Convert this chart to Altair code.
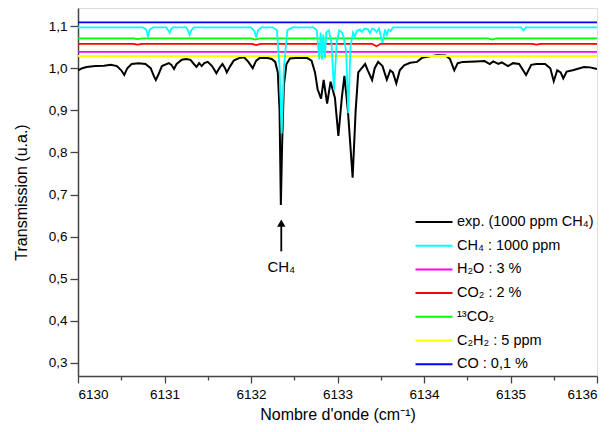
import altair as alt
import pandas as pd

FONT = "Liberation Sans"

# ---- series labels (legend order) and colours ----
series = ["exp. (1000 ppm CH₄)", "CH₄ : 1000 ppm", "H₂O : 3 %", "CO₂ : 2 %",
          "¹³CO₂", "C₂H₂ : 5 ppm", "CO : 0,1 %"]
colors = ["#000000", "#00FFFF", "#FF00FF", "#FF0000", "#00FF00", "#FFFF00", "#0000FF"]

exp_x = [6130.00, 6130.05, 6130.10, 6130.20, 6130.30, 6130.38, 6130.45, 6130.50, 6130.535, 6130.57,
         6130.62, 6130.70, 6130.78, 6130.84, 6130.88, 6130.90, 6130.93, 6130.97, 6131.05, 6131.08,
         6131.11, 6131.14, 6131.20, 6131.25, 6131.30, 6131.34, 6131.37, 6131.40, 6131.43, 6131.46,
         6131.50, 6131.55, 6131.60, 6131.64, 6131.67, 6131.70, 6131.72, 6131.76, 6131.80, 6131.86,
         6131.92, 6131.97, 6132.02, 6132.06, 6132.10, 6132.18, 6132.24, 6132.28, 6132.31, 6132.33,
         6132.345, 6132.36, 6132.38, 6132.41, 6132.45, 6132.55, 6132.65, 6132.70, 6132.74, 6132.77,
         6132.81, 6132.84, 6132.88, 6132.92, 6132.97, 6133.01, 6133.05, 6133.08, 6133.12, 6133.175,
         6133.21, 6133.24, 6133.28, 6133.32, 6133.35, 6133.40, 6133.43, 6133.47, 6133.52, 6133.57,
         6133.61, 6133.64, 6133.68, 6133.72, 6133.77, 6133.84, 6133.92, 6133.98, 6134.05, 6134.15,
         6134.25, 6134.30, 6134.35, 6134.39, 6134.45, 6134.60, 6134.70, 6134.76, 6134.80, 6134.86,
         6134.90, 6134.97, 6135.03, 6135.10, 6135.18, 6135.24, 6135.30, 6135.40, 6135.46, 6135.50,
         6135.54, 6135.58, 6135.61, 6135.65, 6135.72, 6135.80, 6135.85, 6135.92, 6136.00]
exp_y = [0.995, 1.000, 1.003, 1.005, 1.006, 1.008, 1.005, 0.995, 0.984, 1.000,
         1.010, 1.012, 1.010, 1.000, 0.980, 0.972, 0.985, 1.005, 1.012, 1.008,
         0.998, 1.010, 1.020, 1.022, 1.020, 1.010, 1.003, 1.012, 1.005, 1.012,
         1.015, 1.005, 0.988, 1.002, 1.010, 1.000, 0.990, 1.005, 1.018, 1.024,
         1.026, 1.015, 1.000, 1.018, 1.024, 1.025, 1.022, 1.015, 0.990, 0.900,
         0.675, 0.820, 0.960, 1.010, 1.023, 1.025, 1.024, 1.018, 0.990, 0.950,
         0.928, 0.972, 0.916, 0.968, 0.930, 0.839, 0.930, 0.982, 0.900, 0.740,
         0.900, 0.990, 1.000, 1.010, 0.995, 0.972, 1.000, 1.015, 1.005, 0.973,
         0.995, 0.990, 0.964, 0.995, 1.007, 1.013, 1.015, 1.025, 1.028, 1.031,
         1.030, 1.022, 0.995, 1.012, 1.015, 1.016, 1.017, 1.010, 1.016, 1.010,
         1.014, 1.005, 1.012, 1.010, 0.984, 1.008, 1.010, 1.010, 1.000, 0.969,
         0.995, 0.990, 0.976, 0.992, 0.995, 1.000, 1.003, 1.002, 0.998]

# ---- simulated CH4 (offset) ----
ch4_x = [6130.00, 6130.75, 6130.79, 6130.81, 6130.83, 6130.87, 6131.02, 6131.05, 6131.06, 6131.08,
         6131.10, 6131.25, 6131.28, 6131.29, 6131.31, 6131.34, 6132.00, 6132.04, 6132.06, 6132.08,
         6132.12, 6132.25, 6132.30, 6132.33, 6132.355, 6132.38, 6132.42, 6132.48, 6132.72, 6132.76,
         6132.79, 6132.805, 6132.82, 6132.835, 6132.855, 6132.87, 6132.90, 6132.93, 6132.96, 6132.99,
         6133.02, 6133.05, 6133.07, 6133.10, 6133.125, 6133.15, 6133.18, 6133.20, 6133.22, 6133.26,
         6133.28, 6133.31, 6133.35, 6133.375, 6133.40, 6133.43, 6133.45, 6133.48, 6133.52, 6133.55,
         6133.57, 6133.59, 6133.615, 6133.64, 6135.12, 6135.15, 6135.18, 6136.00]
ch4_y = [1.097, 1.097, 1.092, 1.074, 1.092, 1.097, 1.097, 1.088, 1.084, 1.094,
         1.097, 1.097, 1.086, 1.079, 1.090, 1.097, 1.097, 1.088, 1.073, 1.090,
         1.097, 1.097, 1.090, 1.000, 0.845, 1.000, 1.090, 1.097, 1.097, 1.090,
         1.021, 1.085, 1.021, 1.080, 1.024, 1.085, 1.090, 1.060, 0.948, 1.060,
         1.090, 1.085, 1.075, 1.040, 0.893, 1.050, 1.085, 1.075, 1.088, 1.092,
         1.086, 1.094, 1.093, 1.083, 1.094, 1.092, 1.086, 1.094, 1.060, 1.092,
         1.079, 1.092, 1.088, 1.097, 1.097, 1.090, 1.097, 1.097]

h2o_x = [6130.00, 6136.00]
h2o_y = [1.039, 1.039]

co2_x = [6130.00, 6130.64, 6130.69, 6130.74, 6132.01, 6132.06, 6132.11, 6133.40, 6133.45, 6133.50,
         6135.25, 6135.30, 6135.35, 6136.00]
co2_y = [1.058, 1.058, 1.056, 1.058, 1.058, 1.055, 1.058, 1.058, 1.052, 1.058,
         1.058, 1.056, 1.058, 1.058]

c13o2_x = [6130.00, 6130.64, 6130.69, 6130.74, 6132.00, 6132.05, 6132.10, 6134.74, 6134.79, 6134.84, 6136.00]
c13o2_y = [1.071, 1.071, 1.069, 1.071, 1.071, 1.068, 1.071, 1.071, 1.068, 1.071, 1.071]

c2h2_x = [6130.00, 6136.00]
c2h2_y = [1.029, 1.029]

co_x = [6130.00, 6136.00]
co_y = [1.109, 1.109]

# ---- annotation ----
arrow_x = [6132.35]
arrow_base = [0.565]
arrow_tip = [0.632]
label_y = [0.527]
label_txt = ["CH₄"]

x_ticks = [6130 + 0.5 * i for i in range(13)]
y_ticks = [round(0.30 + 0.05 * i, 2) for i in range(17)]


def frame(name, xs, ys):
    return pd.DataFrame({"x": xs, "y": ys, "s": name})


df_exp = frame(series[0], exp_x, exp_y)
df_ch4 = frame(series[1], ch4_x, ch4_y)
df_other = pd.concat([
    frame(series[2], h2o_x, h2o_y),
    frame(series[3], co2_x, co2_y),
    frame(series[4], c13o2_x, c13o2_y),
    frame(series[5], c2h2_x, c2h2_y),
    frame(series[6], co_x, co_y),
])

xscale = alt.Scale(domain=[6130, 6136], nice=False, zero=False)
yscale = alt.Scale(domain=[0.269, 1.143], nice=False, zero=False)

xaxis = alt.Axis(values=x_ticks, title="Nombre d'onde (cm⁻¹)", grid=False,
                 labelExpr="datum.value % 1 == 0 ? format(datum.value, 'd') : ''",
                 tickSize={"condition": {"test": "datum.value % 1 == 0", "value": 7}, "value": 4},
                 labelFontSize=13.5, titleFontSize=16, labelPadding=4, titlePadding=6,
                 labelFont=FONT, titleFont=FONT, titleFontWeight="normal",
                 labelColor="#000", titleColor="#000",
                 domainColor="#444", domainWidth=1.5, tickColor="#444", tickWidth=1.3)
yaxis = alt.Axis(values=y_ticks, title="Transmission (u.a.)", grid=False,
                 labelExpr="abs(datum.value*10 - round(datum.value*10)) < 0.01 ? replace(format(datum.value, '.1f'), '.', ',') : ''",
                 tickSize={"condition": {"test": "abs(datum.value*10 - round(datum.value*10)) < 0.01", "value": 8}, "value": 4},
                 labelFontSize=13.5, titleFontSize=16, labelPadding=3, titlePadding=19,
                 labelFont=FONT, titleFont=FONT, titleFontWeight="normal",
                 labelColor="#000", titleColor="#000",
                 domainColor="#444", domainWidth=1.5, tickColor="#444", tickWidth=1.3)

color = alt.Color("s:N", scale=alt.Scale(domain=series, range=colors), sort=series,
                  legend=alt.Legend(title=None, orient="none", legendX=345, legendY=203,
                                    symbolType="M-1.85,0H1.85", symbolSize=400,
                                    symbolStrokeWidth=2, labelOffset=12, rowPadding=5.7,
                                    labelFontSize=14.5, labelFont=FONT, labelColor="#000",
                                    labelLimit=400, padding=0))

base_x = alt.X("x:Q", scale=xscale, axis=xaxis)
base_y = alt.Y("y:Q", scale=yscale, axis=yaxis)

line_exp = alt.Chart(df_exp).mark_line(strokeWidth=2, clip=True).encode(
    x=base_x, y=base_y, color=color, order="x:Q")
line_other = alt.Chart(df_other).mark_line(strokeWidth=1.8, clip=True).encode(
    x="x:Q", y="y:Q", color=color, detail="s:N", order="x:Q")
line_ch4 = alt.Chart(df_ch4).mark_line(strokeWidth=1.8, clip=True).encode(
    x="x:Q", y="y:Q", color=color, order="x:Q")

ann = pd.DataFrame({"x": arrow_x, "y0": arrow_base, "y1": arrow_tip, "ly": label_y, "t": label_txt})
arrow_shaft = alt.Chart(ann).mark_rule(color="#000", strokeWidth=1.8).encode(
    x="x:Q", y="y0:Q", y2="y1:Q")
arrow_head = alt.Chart(ann).mark_point(shape="triangle-up", filled=True, color="#000",
                                       size=70, opacity=1).encode(x="x:Q", y="y1:Q")
arrow_text = alt.Chart(ann).mark_text(font=FONT, fontSize=15, color="#000").encode(
    x="x:Q", y="ly:Q", text="t:N")

chart = alt.layer(line_exp, line_other, line_ch4, arrow_shaft, arrow_head, arrow_text).properties(
    width=519, height=368,
    padding={"left": 70, "top": 0, "right": 5, "bottom": 48},
    autosize=alt.AutoSizeParams(type="none"),
).configure_view(stroke="#444", strokeWidth=1.5).configure(background="white")

chart.save("out.html", embed_options={"renderer": "svg", "actions": False})
